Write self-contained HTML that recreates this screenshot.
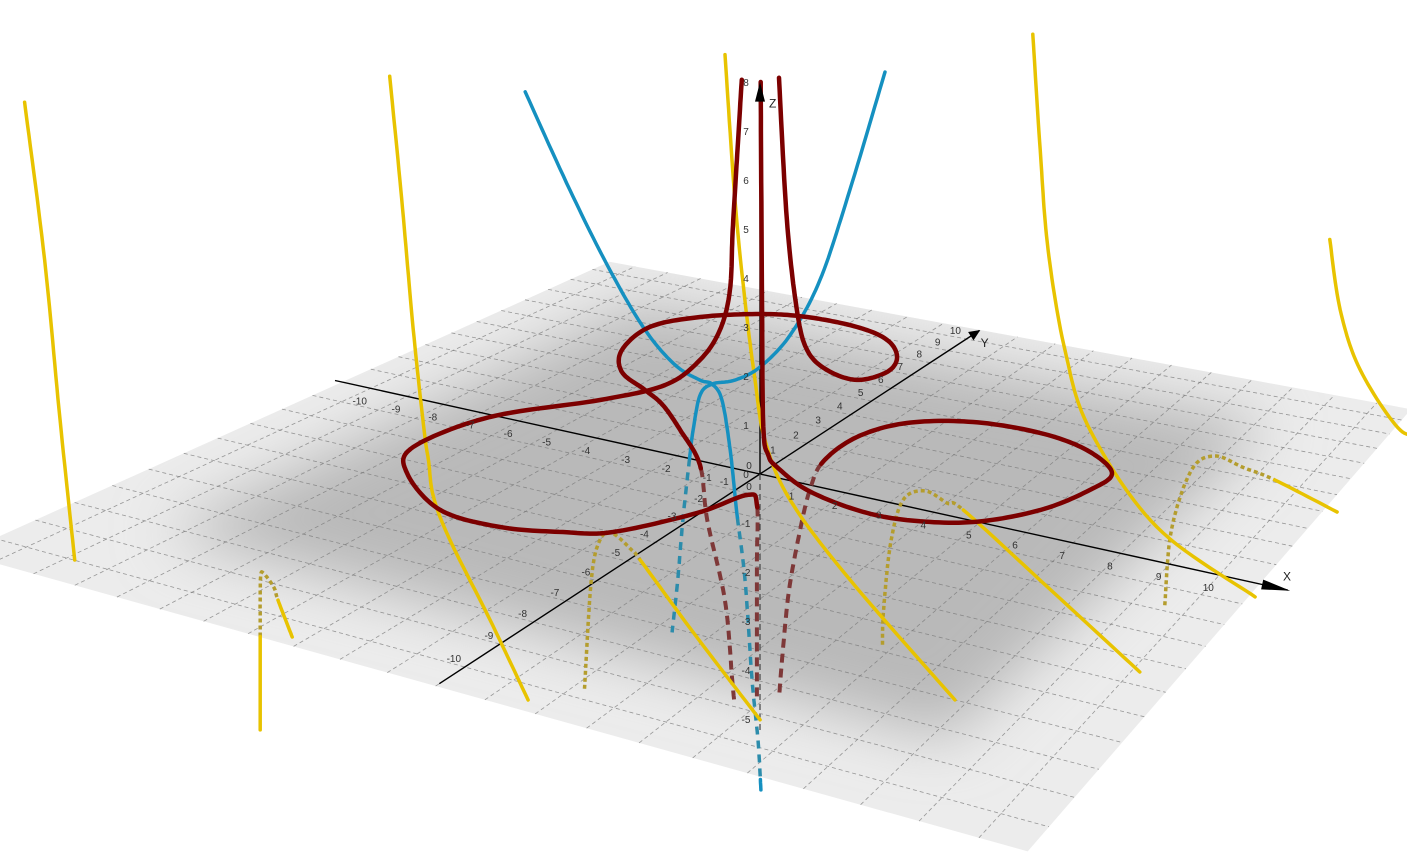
<!DOCTYPE html>
<html>
<head>
<meta charset="utf-8">
<style>
  html,body{margin:0;padding:0;background:#ffffff;}
  svg{display:block;font-family:"Liberation Sans",sans-serif;}
  .tick{font-size:10px;fill:#333;}
  .axlab{font-size:12px;fill:#222;}
</style>
</head>
<body>
<svg id="chart" width="1407" height="855" viewBox="0 0 1407 855">
  <defs>
    <filter id="planeBlur" x="-30%" y="-30%" width="160%" height="160%"><feGaussianBlur stdDeviation="30"/></filter>
    <clipPath id="planeClip"><polygon id="planeClipPoly" points=""/></clipPath>
  </defs>
  <g id="planeLayer"></g>
  <g id="gridLayer"></g>
  <g id="axisLayer"></g>
  <g id="hiddenLayer"></g>
  <g id="zAxisLayer"></g>
  <g id="curveLayer"></g>
  <g id="labelLayer"></g>
</svg>
<script>
// ---------- data: tick labels ----------
const xTicks = [-10,-9,-8,-7,-6,-5,-4,-3,-2,-1,0,1,2,3,4,5,6,7,8,9,10];
const yTicks = [-10,-9,-8,-7,-6,-5,-4,-3,-2,-1,0,1,2,3,4,5,6,7,8,9,10];
const zTicks = [-5,-4,-3,-2,-1,0,1,2,3,4,5,6,7,8];
const gridLines = [-10,-9,-8,-7,-6,-5,-4,-3,-2,-1,0,1,2,3,4,5,6,7,8,9,10];
const planeRange = [-10.8, 10.8];

// ---------- data: curves, 3D points [x, y, z] ----------
const redLeftBranch = [[-3.19,4.70,6.80],[-3.29,4.65,4.98],[-3.37,4.60,3.40],[-3.42,4.56,2.04],[-3.62,4.45,1.13],[-4.01,4.21,0.45],[-4.51,3.53,0],[-5.23,1.97,0],[-6.68,-0.12,0],[-7.0,-2.36,0],[-6.22,-3.57,0],[-4.48,-4.77,0],[-2.98,-4.87,0],[-1.80,-4.47,0],[-0.97,-3.99,0],[-0.06,-2.39,0],[0.33,-1.10,0],[0.76,-1.44,0],[0.76,-1.44,-1.09],[0.76,-1.44,-2.67],[0.76,-1.44,-3.85]];
const redTopBranch = [[-3.85,7.59,6.24],[-3.69,7.69,2.86],[-3.48,7.81,0.71],[-2.92,7.30,0],[-1.84,6.30,0],[-0.93,6.06,0],[-0.58,6.90,0],[-0.85,7.95,0],[-1.62,8.94,0],[-2.70,9.43,0],[-4.12,9.47,0],[-5.23,9.07,0],[-6.37,8.10,0],[-7.01,6.82,0],[-6.66,5.05,0],[-5.82,3.76,0],[-4.72,3.02,0],[-3.87,2.41,0],[-2.73,1.30,0],[-1.32,-0.20,0],[-0.9,-0.6,-0.92],[-0.3,-0.9,-2.32],[-0.1,-0.95,-3.86],[-0.05,-0.95,-4.3]];
const redRightBranch = [[0.01,0.01,8.0],[0.03,0.03,3.55],[0.05,0.05,0.96],[0.08,0.2,0.34],[0.11,0.51,0],[1.25,-0.26,0],[2.61,-0.67,0],[3.70,-0.62,0],[4.88,-0.05,0],[5.79,1.17,0],[6.26,2.65,0],[6.31,3.75,0],[5.35,4.69,0],[4.08,5.11,0],[2.53,4.97,0],[1.30,4.17,0],[0.75,2.87,0],[0.80,1.24,0],[0.62,1.0,-0.54],[0.5,0.8,-1.32],[0.35,0.6,-2.51],[0.27,0.48,-3.72],[0.22,0.42,-4.6]];
const blueLeftBranch = [[-6.64,1.13,6.76],[-5.80,1.63,4.62],[-5.04,2.08,2.86],[-4.37,2.48,1.54],[-3.80,2.82,0.77],[-3.33,3.10,0.44],[-3.10,3.24,0.35],[-2.91,3.35,0],[-1.21,0.84,0],[0.62,-1.99,0],[0.76,-1.91,-1.31],[0.88,-1.84,-3.27],[0.98,-1.78,-4.45],[1.03,-1.75,-5.43]];
const blueRightBranch = [[0.23,5.21,7.30],[-0.45,4.81,4.67],[-1.03,4.47,2.66],[-1.60,4.12,1.44],[-2.18,3.78,0.73],[-2.66,3.50,0.44],[-3.10,3.24,0.35],[-3.49,3.37,0],[-2.49,1.44,0],[-1.79,0.17,0],[-1.92,0.10,-1.35],[-2.01,0.04,-2.60],[-2.11,-0.02,-3.68]];
const yellowCurve1 = [[-9.58,-10.45,8.36],[-9.27,-10.27,5.49],[-9.03,-10.13,2.56],[-8.81,-9.99,0]];
const yellowCurve2 = [[-6.79,-3.40,7.9],[-6.58,-3.28,5.41],[-6.38,-3.16,2.76],[-6.19,-3.05,0.71],[-6.0,-3.15,0.15],[-5.0,-4.3,0],[-3.43,-5.85,0],[-0.71,-8.31,0],[1.62,-10.46,0]];
const yellowCurve3 = [[-1.45,1.03,8.21],[-1.27,1.14,5.16],[-1.09,1.25,3.05],[-0.90,1.35,1.37],[-0.72,1.46,0.1],[1.21,-0.89,0],[4.04,-3.66,0],[7.79,-7.0,0]];
const yellowCurve4 = [[3.87,5.19,8.56],[4.01,5.27,6.07],[4.16,5.36,3.90],[4.48,5.55,1.73],[4.96,5.83,0],[8.15,1.55,0],[10.91,-0.59,0]];
const yellowCurve5 = [[9.57,8.55,4.17],[9.77,8.67,2.64],[10.16,8.90,1.32],[10.94,9.36,0],[11.4,9.6,0]];
const yellowArch1 = [[-6.0,-8.2,-3.2],[-6.0,-8.2,-1.26],[-6.0,-8.2,-0.8],[-5.9,-8.3,-0.3],[-5.49,-8.70,-0.02],[-4.9,-9.1,-0.01],[-4.46,-9.50,0],[-3.26,-10.53,0]];
const yellowArch2 = [[-3.1,-1.8,-4.36],[-2.6,-2.3,-1.86],[-2.0,-2.9,-0.75],[-0.99,-4.0,-0.02],[-0.2,-4.5,-0.02],[0.19,-4.83,0],[2.7,-7.0,0],[5.30,-9.19,0]];
const yellowArch3 = [[1.3,3.0,-4.36],[1.35,2.95,-3.62],[1.7,2.6,-1.98],[2.3,2.0,-0.75],[3.33,0.95,-0.02],[4.0,0.6,-0.02],[4.45,0.40,0],[7.3,-2.05,0],[10.14,-4.51,0]];
const yellowArch4 = [[6.0,7.7,-4.27],[6.25,7.45,-2.47],[7.0,6.7,-0.76],[7.85,5.82,-0.02],[8.6,5.5,-0.02],[9.42,5.12,0],[11.07,4.11,0]];

// ---------- projection (axis functions) ----------
const CAM = {ax:35.87,bx:37.74,cx:760,ay:5.36,by:-7.5,cy:474,zs:49,wx:-0.00825,wy:0.01769};
function proj(x,y,z){
  const w = 1 + CAM.wx*x + CAM.wy*y;
  return [(CAM.ax*x + CAM.bx*y + CAM.cx)/w, (CAM.ay*x + CAM.by*y + CAM.cy - CAM.zs*z)/w];
}
const NS = 'http://www.w3.org/2000/svg';
function mk(tag, attrs, parent){
  const el = document.createElementNS(NS, tag);
  for (const k in attrs) el.setAttribute(k, attrs[k]);
  parent.appendChild(el);
  return el;
}
const f = v => v.toFixed(1);

// ---------- plane ----------
const lo = planeRange[0], hi = planeRange[1];
const corners = [proj(lo,lo,0), proj(hi,lo,0), proj(hi,hi,0), proj(lo,hi,0)];
const cornerStr = corners.map(p => f(p[0])+','+f(p[1])).join(' ');
document.getElementById('planeClipPoly').setAttribute('points', cornerStr);
const planeLayer = document.getElementById('planeLayer');
const planeBase = mk('polygon', {points: cornerStr, fill:'#ececec'}, planeLayer);


const shadeG = mk('g', {'clip-path':'url(#planeClip)'}, planeLayer);
const inner = [proj(-8.3,-8.3,0), proj(8.3,-8.3,0), proj(8.3,8.3,0), proj(-8.3,8.3,0)];
const shade = mk('polygon', {points: inner.map(p=>f(p[0])+','+f(p[1])).join(' '), fill:'#b9b9b9', filter:'url(#planeBlur)'}, shadeG);



function insidePlane(X,Y){
  let sign = 0;
  for (let i=0;i<4;i++){
    const a = corners[i], b = corners[(i+1)%4];
    const c = (b[0]-a[0])*(Y-a[1]) - (b[1]-a[1])*(X-a[0]);
    const s = c>0?1:-1;
    if (sign===0) sign = s; else if (s!==sign) return false;
  }
  return true;
}

// ---------- grid ----------
const gridLayer = document.getElementById('gridLayer');
gridLines.forEach(v => {
  const a = proj(v,lo,0), b = proj(v,hi,0);
  const l1 = mk('line', {x1:f(a[0]),y1:f(a[1]),x2:f(b[0]),y2:f(b[1]),stroke:'#7a7a7a','stroke-width':0.8,'stroke-dasharray':'4 3',opacity:0.75}, gridLayer);
  
  
  const c = proj(lo,v,0), d = proj(hi,v,0);
  const l2 = mk('line', {x1:f(c[0]),y1:f(c[1]),x2:f(d[0]),y2:f(d[1]),stroke:'#7a7a7a','stroke-width':0.8,'stroke-dasharray':'4 3',opacity:0.75}, gridLayer);
  
  
});

// ---------- axes ----------
const axisLayer = document.getElementById('axisLayer');
function arrowHead(tip, base, parent, name){
  const dx = tip[0]-base[0], dy = tip[1]-base[1], L = Math.hypot(dx,dy);
  const nx = -dy/L*5, ny = dx/L*5;
  const p = mk('polygon', {points: f(tip[0])+','+f(tip[1])+' '+f(base[0]+nx)+','+f(base[1]+ny)+' '+f(base[0]-nx)+','+f(base[1]-ny), fill:'#000'}, parent);
  
  
}
{
  const a = proj(-11,0,0), b = proj(11.35,0,0);
  const xl = mk('line', {x1:f(a[0]),y1:f(a[1]),x2:f(b[0]),y2:f(b[1]),stroke:'#000','stroke-width':1.4}, axisLayer);
  
  
  arrowHead(proj(11.4,0,0), proj(10.85,0,0), axisLayer, 'x-axis-arrow');
  const c = proj(0,-10.7,0), d = proj(0,10.75,0);
  const yl = mk('line', {x1:f(c[0]),y1:f(c[1]),x2:f(d[0]),y2:f(d[1]),stroke:'#000','stroke-width':1.4}, axisLayer);
  
  
  arrowHead(proj(0,10.8,0), proj(0,10.25,0), axisLayer, 'y-axis-arrow');
}

// ---------- curves ----------
const styles = {
  red:{solid:'#7c0000',hidden:'#7e3838',w:4.5,hw:4,dash:'9 6'},
  blue:{solid:'#1590c0',hidden:'#2c8cab',w:3.5,hw:3.5,dash:'8 6'},
  yellow:{solid:'#e8c300',hidden:'#b49d2e',w:3.5,hw:3.5,dash:'4 3'}
};
function sampleCurve(pts){
  const P = pts.map(p => { const s = proj(p[0],p[1],p[2]); return [s[0],s[1],p[2]]; });
  const out = [];
  const n = P.length;
  for (let i=0;i<n-1;i++){
    const p0 = P[Math.max(i-1,0)], p1 = P[i], p2 = P[i+1], p3 = P[Math.min(i+2,n-1)];
    const steps = 14;
    for (let s=(i===0?0:1); s<=steps; s++){
      const t = s/steps, t2=t*t, t3=t2*t;
      const X = 0.5*((2*p1[0]) + (-p0[0]+p2[0])*t + (2*p0[0]-5*p1[0]+4*p2[0]-p3[0])*t2 + (-p0[0]+3*p1[0]-3*p2[0]+p3[0])*t3);
      const Y = 0.5*((2*p1[1]) + (-p0[1]+p2[1])*t + (2*p0[1]-5*p1[1]+4*p2[1]-p3[1])*t2 + (-p0[1]+3*p1[1]-3*p2[1]+p3[1])*t3);
      const Z = p1[2] + (p2[2]-p1[2])*t;
      out.push([X,Y,(Z<0 && insidePlane(X,Y))]);
    }
  }
  return out;
}
const hiddenLayer = document.getElementById('hiddenLayer');
const curveLayer = document.getElementById('curveLayer');
function drawCurve(pts, styleKey, name){
  const st = styles[styleKey];
  const S = sampleCurve(pts);
  let run = [S[0]], hid = S[0][2];
  const flush = () => {
    if (run.length < 2) return;
    const d = 'M' + run.map(p => f(p[0])+' '+f(p[1])).join(' L');
    if (hid){
      const e = mk('path', {d:d, fill:'none', stroke:st.hidden, 'stroke-width':st.hw, 'stroke-dasharray':st.dash, 'stroke-linecap':'butt'}, hiddenLayer);
      
      
    } else {
      const e = mk('path', {d:d, fill:'none', stroke:st.solid, 'stroke-width':st.w, 'stroke-linecap':'round', 'stroke-linejoin':'round'}, curveLayer);
      
      
    }
  };
  for (let i=1;i<S.length;i++){
    if (S[i][2] !== hid){
      run.push(S[i]); flush();
      run = [S[i]]; hid = S[i][2];
    } else run.push(S[i]);
  }
  flush();
}

// z-axis
const zLayer = document.getElementById('zAxisLayer');
{
  const o = proj(0,0,0), t = proj(0,0,7.75), b = proj(0,0,-5.3);
  const zl = mk('line', {x1:f(o[0]),y1:f(o[1]),x2:f(t[0]),y2:f(t[1]),stroke:'#000','stroke-width':1.4}, zLayer);
  
  
  const zd = mk('line', {x1:f(o[0]),y1:f(o[1]),x2:f(b[0]),y2:f(b[1]),stroke:'#444','stroke-width':1.2,'stroke-dasharray':'6 4'}, zLayer);
  
  
}

drawCurve(yellowCurve1, 'yellow', 'yellow-curve-1');
drawCurve(yellowCurve2, 'yellow', 'yellow-curve-2');
drawCurve(yellowCurve3, 'yellow', 'yellow-curve-3');
drawCurve(yellowCurve4, 'yellow', 'yellow-curve-4');
drawCurve(yellowCurve5, 'yellow', 'yellow-curve-5');
drawCurve(yellowArch1, 'yellow', 'yellow-arch-1');
drawCurve(yellowArch2, 'yellow', 'yellow-arch-2');
drawCurve(yellowArch3, 'yellow', 'yellow-arch-3');
drawCurve(yellowArch4, 'yellow', 'yellow-arch-4');
drawCurve(blueLeftBranch, 'blue', 'blue-left-branch');
drawCurve(blueRightBranch, 'blue', 'blue-right-branch');
drawCurve(redLeftBranch, 'red', 'red-left-branch');
drawCurve(redTopBranch, 'red', 'red-top-branch');
drawCurve(redRightBranch, 'red', 'red-right-branch');

// z arrow on top
{
  const t = proj(0,0,8.0), b = proj(0,0,7.6);
  arrowHead([t[0],t[1]], [b[0],b[1]], curveLayer, 'z-axis-arrow');
}

// ---------- labels ----------
const labelLayer = document.getElementById('labelLayer');
xTicks.forEach(v => {
  const p = proj(v,0,0);
  const t = mk('text', {x:f(p[0]-11), y:f(p[1]+16), class:'tick', 'text-anchor':'middle'}, labelLayer);
  t.textContent = String(v);
  
  
});
yTicks.forEach(v => {
  const p = proj(0,v,0);
  const t = mk('text', {x:f(p[0]-11), y:f(p[1]-5), class:'tick', 'text-anchor':'middle'}, labelLayer);
  t.textContent = String(v);
  
  
});
zTicks.forEach(v => {
  const p = proj(0,0,v);
  const t = mk('text', {x:f(p[0]-14), y:f(p[1]+4), class:'tick', 'text-anchor':'middle'}, labelLayer);
  t.textContent = String(v);
  
  
});
{
  const px = proj(11.2,0,0), py = proj(0,10.7,0), pz = proj(0,0,7.6);
  const tx = mk('text', {x:f(px[0]+3), y:f(px[1]-8), class:'axlab'}, labelLayer);
  tx.textContent = 'X';
  
  
  const ty = mk('text', {x:f(py[0]+2), y:f(py[1]+16), class:'axlab'}, labelLayer);
  ty.textContent = 'Y';
  
  
  const tz = mk('text', {x:f(pz[0]+9), y:f(pz[1]+6), class:'axlab'}, labelLayer);
  tz.textContent = 'Z';
  
  
}
</script>
</body>
</html>
